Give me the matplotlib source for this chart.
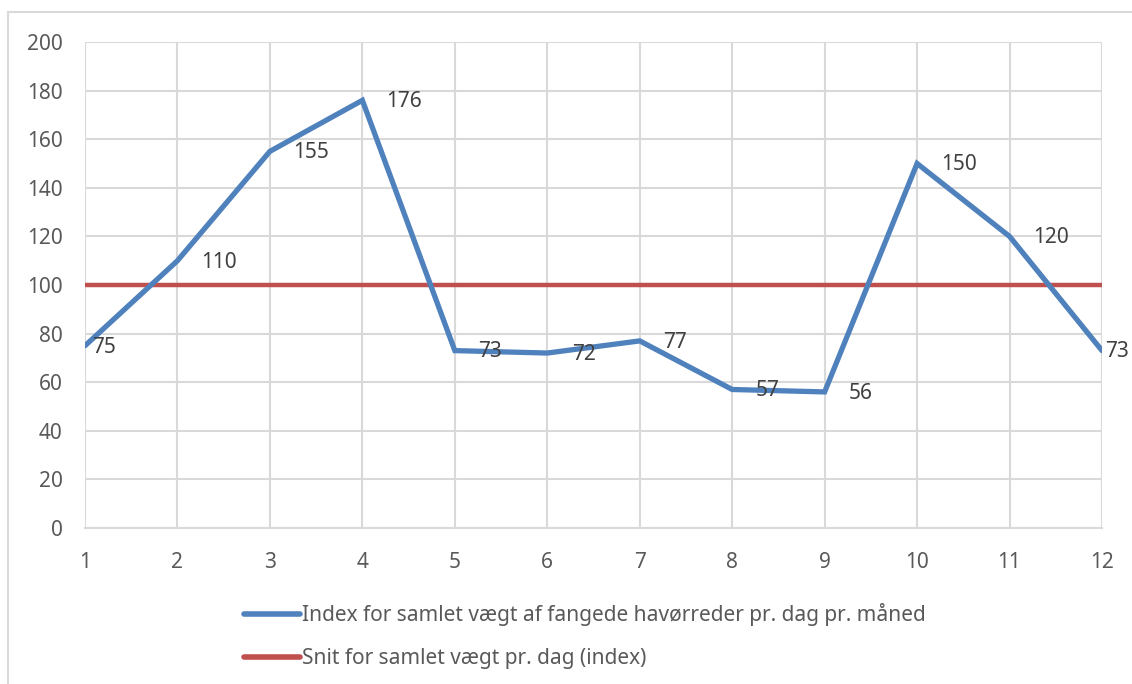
import matplotlib.pyplot as plt
from matplotlib.patches import Rectangle

plt.rcParams['font.family'] = ['Noto Sans', 'DejaVu Sans']

# data
maaned = [1, 2, 3, 4, 5, 6, 7, 8, 9, 10, 11, 12]
index_vaegt = [75, 110, 155, 176, 73, 72, 77, 57, 56, 150, 120, 73]
snit = [100] * 12
navn_index = "Index for samlet vægt af fangede havørreder pr. dag pr. måned"
navn_snit = "Snit for samlet vægt pr. dag (index)"

blaa = '#4f81bd'
roed = '#c0504d'
graa = '#d9d9d9'
tekst = '#595959'

fig = plt.figure(figsize=(11.32, 6.84), dpi=100)
ax = fig.add_axes([85/1132, 1-528/684, (1102-85)/1132, (528-42)/684])

l1, = ax.plot(maaned, index_vaegt, color=blaa, lw=3.8, solid_capstyle='round',
              solid_joinstyle='miter', zorder=3)
l2, = ax.plot(maaned, snit, color=roed, lw=3.2, zorder=2)

# datalabels til hoejre for punkterne (forste og sidste sidder taettere paa)
forskyd = [5, 17, 17, 17, 17, 18, 17, 17, 17, 17, 17, 2]
for x, y, dx in zip(maaned, index_vaegt, forskyd):
    ax.annotate(str(y), (x, y), xytext=(dx, -1), textcoords='offset points',
                ha='left', va='center', fontsize=15, color='#404040', zorder=4)

ax.set_xlim(1, 12)
ax.set_ylim(0, 200)
ax.set_xticks(maaned)
ax.set_yticks(range(0, 201, 20))
ax.grid(True, color=graa, lw=1.5)
ax.set_axisbelow(True)
for s in ax.spines.values():
    s.set_visible(False)
ax.spines['bottom'].set_visible(True)
ax.spines['bottom'].set_color(graa)
ax.spines['bottom'].set_linewidth(1.5)
ax.tick_params(length=0, labelsize=15, colors=tekst)
ax.tick_params(axis='y', pad=16)
ax.tick_params(axis='x', pad=17)

leg = fig.legend([l1, l2], [navn_index, navn_snit], loc='upper left',
                 bbox_to_anchor=(236/1132, 1-595/684), frameon=False,
                 fontsize=15, handlelength=2.65, handletextpad=0.1,
                 labelspacing=1.05, borderaxespad=0)
for t in leg.get_texts():
    t.set_color(tekst)
for h in leg.get_lines():
    h.set_solid_capstyle('round')
    h.set_linewidth(4)

# ydre ramme rundt om diagrammet
fig.patches.append(Rectangle((8/1132, -0.1), 1.1, 0.1 + 1-12/684,
                             transform=fig.transFigure, fill=False,
                             edgecolor=graa, lw=1.5))

fig.savefig('out.png', dpi=100)
